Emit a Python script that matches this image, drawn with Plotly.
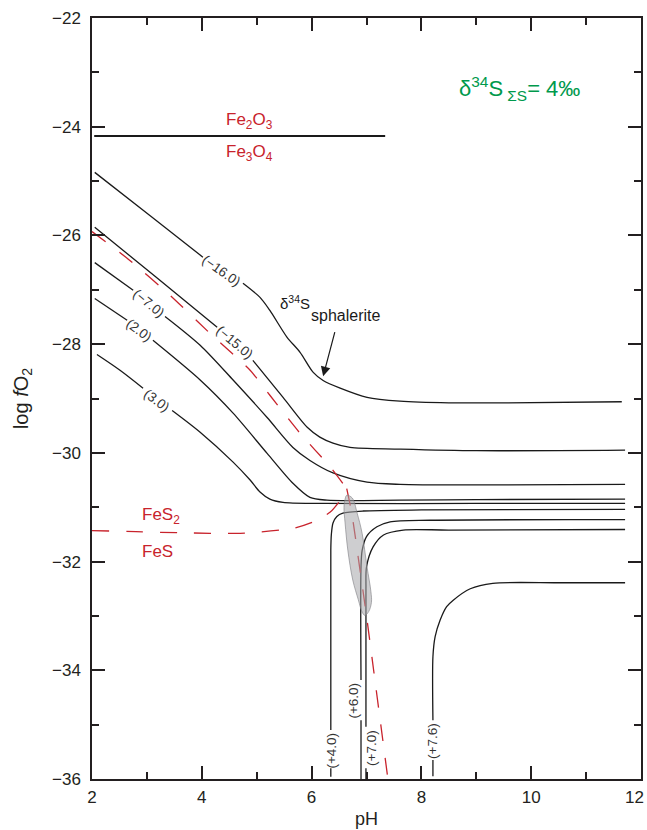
import plotly.graph_objects as go

# ---------------- data (pH, log fO2) ----------------
m16_ph = [2.05, 3.06, 4.02, None, 4.75, 5.06, 5.24, 5.55, 5.79, 6.03, 6.21, 6.52, 7.01, 7.61, 8.5, 9.5, 11.65]
m16_lf = [-24.84, -25.64, -26.40, None, -26.88, -27.14, -27.38, -27.87, -28.15, -28.52, -28.67, -28.81, -28.98, -29.05, -29.08, -29.08, -29.06]

m15_ph = [2.05, 3.17, 4.28, None, 4.93, 5.48, 5.92, 6.15, 6.39, 6.70, 7.61, 9.0, 11.71]
m15_lf = [-25.85, -26.77, -27.69, None, -28.30, -28.98, -29.53, -29.71, -29.82, -29.90, -29.93, -29.96, -29.95]

m7_ph = [2.05, 2.75, None, 3.33, 3.97, 4.57, 5.19, 5.66, 5.97, 6.39, 7.01, 7.61, 9.0, 11.71]
m7_lf = [-26.50, -27.01, None, -27.49, -28.02, -28.66, -29.35, -29.90, -30.14, -30.37, -30.54, -30.58, -30.59, -30.58]

p2_ph = [2.05, 2.64, None, 3.11, 3.97, 4.57, 5.19, 5.66, 5.97, 6.28, 7.61, 9.0, 11.71]
p2_lf = [-27.16, -27.56, None, -27.93, -28.66, -29.27, -30.01, -30.56, -30.82, -30.87, -30.87, -30.86, -30.85]

p3_ph = [2.09, 2.51, 2.93, None, 3.46, 3.97, 4.57, 4.88, 5.06, 5.24, 5.48, 6.15, 9.0, 11.71]
p3_lf = [-28.19, -28.48, -28.81, None, -29.22, -29.62, -30.17, -30.50, -30.72, -30.85, -30.91, -30.93, -30.93, -30.93]

p4_ph = [6.35, 6.35, None, 6.35, 6.35, 6.36, 6.39, 6.46, 6.57, 6.94, 8.0, 11.71]
p4_lf = [-35.96, -35.80, None, -35.10, -31.79, -31.50, -31.29, -31.17, -31.11, -31.07, -31.05, -31.04]

p6_ph = [6.90, 6.90, None, 6.90, 6.90, 6.92, 7.00, 7.19, 7.43, 8.16, 11.71]
p6_lf = [-36.0, -34.92, None, -34.18, -32.10, -31.80, -31.54, -31.36, -31.27, -31.24, -31.23]

p7_ph = [6.99, 6.99, None, 6.99, 6.99, 7.00, 7.12, 7.31, 7.67, 8.5, 11.71]
p7_lf = [-36.0, -35.80, None, -35.04, -32.50, -32.10, -31.73, -31.51, -31.42, -31.42, -31.41]

p76_ph = [8.21, 8.21, None, 8.21, 8.21, 8.25, 8.34, 8.46, 8.58, 8.89, 9.30, 10.5, 11.71]
p76_lf = [-35.95, -35.65, None, -34.92, -33.75, -33.38, -33.08, -32.83, -32.71, -32.50, -32.40, -32.39, -32.39]

curve_sets = [(m16_ph, m16_lf), (m15_ph, m15_lf), (m7_ph, m7_lf), (p2_ph, p2_lf), (p3_ph, p3_lf),
              (p4_ph, p4_lf), (p6_ph, p6_lf), (p7_ph, p7_lf), (p76_ph, p76_lf)]

# labels of the sphalerite isopleths: text, pH, log fO2, angle
iso_labels = ["(\u221216.0)", "(\u221215.0)", "(\u22127.0)", "(2.0)", "(3.0)", "(+4.0)", "(+6.0)", "(+7.0)", "(+7.6)"]
iso_lab_ph = [4.35, 4.60, 3.04, 2.86, 3.18, 6.36, 6.77, 7.09, 8.21]
iso_lab_lf = [-26.64, -27.97, -27.25, -27.75, -29.03, -35.47, -34.56, -35.42, -35.30]
iso_lab_ang = [35, 40, 39, 37, 37, -90, -90, -90, -90]

# mineral boundaries (red dashed)
py_mt_ph = [2.0, 2.69, 3.42, 4.19, 4.88, 5.24, 5.79, 6.34, 6.64]
py_mt_lf = [-25.93, -26.46, -27.10, -27.84, -28.48, -28.94, -29.64, -30.26, -30.66]

py_po_ph = [2.0, 2.8, 3.6, 4.70, 5.66, 6.03, 6.34, 6.57, 6.64]
py_po_lf = [-31.43, -31.45, -31.47, -31.48, -31.39, -31.27, -31.09, -30.81, -30.66]

po_mt_ph = [6.64, 6.73, 6.86, 7.00, 7.13, 7.26, 7.39]
po_mt_lf = [-30.66, -31.10, -32.00, -33.00, -34.00, -35.00, -36.00]

hm_mt_ph = [2.04, 7.34]
hm_mt_lf = [-24.17, -24.17]

# grey field
field_ph = [6.64, 6.74, 6.83, 6.92, 7.01, 7.08, 7.09, 7.04, 6.97, 6.92, 6.85, 6.75, 6.66, 6.61, 6.59, 6.61, 6.64]
field_lf = [-30.78, -30.83, -31.11, -31.48, -32.10, -32.55, -32.75, -32.92, -32.99, -32.93, -32.70,
            -32.34, -31.79, -31.29, -31.00, -30.85, -30.78]

x_ticks = [2, 4, 6, 8, 10, 12]
x_tick_text = ["2", "4", "6", "8", "10", ""]   # last label drawn separately so it stays inside the page
x_last_label = "12"
y_ticks = [-36, -34, -32, -30, -28, -26, -24, -22]

# ---------------- figure ----------------
FONT = "Liberation Sans, Arial, sans-serif"
BLACK = "#231f20"
RED = "#c8232c"
GREEN = "#00994c"

fig = go.Figure()

for xs, ys in curve_sets:
    fig.add_trace(go.Scatter(x=xs, y=ys, mode="lines",
                             line=dict(color="#1a1a1a", width=1.3, shape="spline", smoothing=0.8),
                             hoverinfo="skip", showlegend=False))

fig.add_trace(go.Scatter(x=hm_mt_ph, y=hm_mt_lf, mode="lines",
                         line=dict(color="#1a1a1a", width=2), showlegend=False, hoverinfo="skip"))

for xs, ys in [(py_mt_ph, py_mt_lf), (py_po_ph, py_po_lf), (po_mt_ph, po_mt_lf)]:
    fig.add_trace(go.Scatter(x=xs, y=ys, mode="lines",
                             line=dict(color=RED, width=1.3, dash="17px,17px", shape="spline", smoothing=0.6),
                             showlegend=False, hoverinfo="skip"))

fig.add_trace(go.Scatter(x=field_ph, y=field_lf, mode="lines", fill="toself",
                         fillcolor="rgba(165,166,170,0.55)",
                         line=dict(color="rgba(130,130,135,0.8)", width=0.8, shape="spline", smoothing=1.0),
                         showlegend=False, hoverinfo="skip"))

ann = []
for t, xv, yv, a in zip(iso_labels, iso_lab_ph, iso_lab_lf, iso_lab_ang):
    ann.append(dict(x=xv, y=yv, text=t, showarrow=False, textangle=a,
                    font=dict(family=FONT, size=13.5, color="#333333"), xanchor="center", yanchor="middle"))

ann += [
    dict(x=4.86, y=-23.90, text="Fe<sub>2</sub>O<sub>3</sub>", showarrow=False,
         font=dict(family=FONT, size=17, color=RED)),
    dict(x=4.86, y=-24.48, text="Fe<sub>3</sub>O<sub>4</sub>", showarrow=False,
         font=dict(family=FONT, size=17, color=RED)),
    dict(x=3.26, y=-31.17, text="FeS<sub>2</sub>", showarrow=False,
         font=dict(family=FONT, size=17, color=RED)),
    dict(x=3.19, y=-31.82, text="FeS", showarrow=False,
         font=dict(family=FONT, size=17, color=RED)),
    dict(x=9.78, y=-23.30, text="\u03b4<sup>34</sup>S<sub> \u03a3S</sub>= 4\u2030", showarrow=False,
         font=dict(family=FONT, size=22, color=GREEN)),
    dict(x=5.69, y=-27.23, text="\u03b4<sup>34</sup>S", showarrow=False,
         font=dict(family=FONT, size=15, color="#1a1a1a")),
    dict(x=6.61, y=-27.47, text="sphalerite", showarrow=False,
         font=dict(family=FONT, size=16, color="#1a1a1a")),
    dict(x=6.21, y=-28.59, ax=6.43, ay=-27.75, axref="x", ayref="y", xref="x", yref="y",
         text="", showarrow=True, arrowhead=2, arrowsize=1.6, arrowwidth=1.2, arrowcolor="#1a1a1a"),
    dict(x=x_ticks[-1], y=0, xref="x", yref="paper", text=x_last_label, showarrow=False,
         xanchor="right", yanchor="middle", xshift=4, yshift=-18, borderpad=0,
         font=dict(family=FONT, size=17, color=BLACK)),
]

axis_common = dict(showline=True, linecolor=BLACK, linewidth=1.5, mirror="ticks",
                   ticks="inside", ticklen=13, tickwidth=2, tickcolor=BLACK,
                   showgrid=False, zeroline=False, automargin=False,
                   tickfont=dict(family=FONT, size=17, color=BLACK),
                   minor=dict(ticks="inside", ticklen=7, tickwidth=2, tickcolor=BLACK, dtick=1, showgrid=False))

fig.update_xaxes(range=[2, 12], tickvals=x_ticks, ticktext=x_tick_text, ticklabelstandoff=2,
                 title=dict(text="pH", font=dict(family=FONT, size=18, color=BLACK), standoff=6),
                 **axis_common)
fig.update_yaxes(range=[-36, -22], tickvals=y_ticks, ticklabelstandoff=6,
                 title=dict(text="log <i>f</i>O<sub>2</sub>", font=dict(family=FONT, size=20, color=BLACK),
                            standoff=18),
                 **axis_common)

fig.update_layout(width=647, height=830, margin=dict(l=92, r=6, t=18, b=51),
                  plot_bgcolor="white", paper_bgcolor="white", annotations=ann, showlegend=False)

fig.write_html("out.html", config={"displayModeBar": False},
               post_script="document.body.style.margin='0px';document.body.style.overflow='hidden';")
